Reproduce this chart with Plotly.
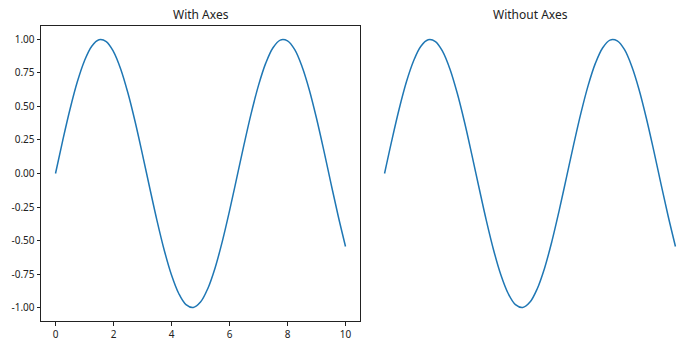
import plotly.graph_objects as go

x_vals = [0.0, 0.25, 0.5, 0.75, 1.0, 1.25, 1.5, 1.75, 2.0, 2.25, 2.5, 2.75, 3.0, 3.25, 3.5, 3.75,
          4.0, 4.25, 4.5, 4.75, 5.0, 5.25, 5.5, 5.75, 6.0, 6.25, 6.5, 6.75, 7.0, 7.25, 7.5, 7.75,
          8.0, 8.25, 8.5, 8.75, 9.0, 9.25, 9.5, 9.75, 10.0]
y_vals = [0.000, 0.247, 0.479, 0.682, 0.841, 0.949, 0.997, 0.984, 0.909, 0.778, 0.598, 0.382, 0.141,
          -0.108, -0.351, -0.572, -0.757, -0.895, -0.978, -0.999, -0.959, -0.859, -0.706, -0.508,
          -0.279, -0.033, 0.215, 0.450, 0.657, 0.823, 0.938, 0.995, 0.989, 0.923, 0.798, 0.625,
          0.412, 0.174, -0.075, -0.319, -0.544]
x_ticks = [0, 2, 4, 6, 8, 10]
y_ticks = [-1.0, -0.75, -0.5, -0.25, 0.0, 0.25, 0.5, 0.75, 1.0]
titles = ["With Axes", "Without Axes"]

W, H = 700, 350
color = "#1f77b4"
font = "Noto Sans"

fig = go.Figure()
fig.add_trace(go.Scatter(x=x_vals, y=y_vals, mode="lines", line=dict(color=color, width=1.5, shape="spline"),
                         xaxis="x", yaxis="y", showlegend=False, hoverinfo="skip"))
fig.add_trace(go.Scatter(x=x_vals, y=y_vals, mode="lines", line=dict(color=color, width=1.5, shape="spline"),
                         xaxis="x2", yaxis="y2", showlegend=False, hoverinfo="skip"))

ydom = [1 - 321 / H, 1 - 26 / H]
axis_common = dict(showgrid=False, zeroline=False)
fig.update_layout(
    width=W, height=H, margin=dict(l=0, r=0, t=0, b=0),
    paper_bgcolor="white", plot_bgcolor="white",
    font=dict(family=font, size=10, color="#222"),
    xaxis=dict(domain=[41 / W, 360 / W], range=[-0.5, 10.5], tickvals=x_ticks, ticktext=[str(v) for v in x_ticks],
               showline=True, linecolor="#222", linewidth=1, mirror=True, ticks="outside", ticklen=3.5,
               tickcolor="#222", anchor="y", **axis_common),
    yaxis=dict(domain=ydom, range=[-1.1, 1.1], tickvals=y_ticks, ticktext=[f"{v:.2f}" for v in y_ticks],
               showline=True, linecolor="#222", linewidth=1, mirror=True, ticks="outside", ticklen=3.5,
               tickcolor="#222", anchor="x", **axis_common),
    xaxis2=dict(domain=[370 / W, 690 / W], range=[-0.5, 10.5], visible=False, anchor="y2", **axis_common),
    yaxis2=dict(domain=ydom, range=[-1.1, 1.1], visible=False, anchor="x2", **axis_common),
    annotations=[
        dict(text=titles[0], x=(41 + 360) / 2 / W, y=1 - 15 / H, xref="paper", yref="paper",
             xanchor="center", yanchor="middle",
             showarrow=False, font=dict(size=12, color="#222", family=font)),
        dict(text=titles[1], x=(370 + 690) / 2 / W, y=1 - 15 / H, xref="paper", yref="paper",
             xanchor="center", yanchor="middle",
             showarrow=False, font=dict(size=12, color="#222", family=font)),
    ],
)
fig.write_html("out.html")
